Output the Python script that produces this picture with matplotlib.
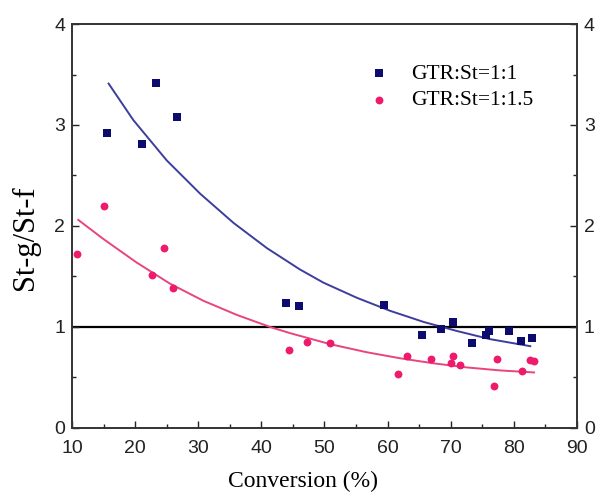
# St-g/St-f ratio against conversion for two GTR:St feed ratios

import numpy as np
import matplotlib.pyplot as plt
from matplotlib.ticker import MultipleLocator

# GTR:St = 1:1
conv_11 = [15.6, 21.1, 23.3, 26.6, 43.9, 45.9, 59.5, 65.5, 68.5, 70.3,
           73.4, 75.6, 76.1, 79.3, 81.2, 82.9]
ratio_11 = [2.92, 2.81, 3.42, 3.08, 1.24, 1.21, 1.22, 0.92, 0.98, 1.05,
            0.84, 0.92, 0.96, 0.96, 0.86, 0.89]

# GTR:St = 1:1.5
conv_115 = [10.8, 15.1, 22.7, 24.5, 26.0, 44.4, 47.2, 50.8, 61.6, 63.1,
            66.9, 70.3, 70.1, 71.4, 76.8, 77.4, 81.3, 82.5, 83.2]
ratio_115 = [1.72, 2.20, 1.51, 1.78, 1.39, 0.77, 0.85, 0.84, 0.53, 0.71,
             0.68, 0.71, 0.64, 0.62, 0.42, 0.68, 0.56, 0.67, 0.66]

# exponential decay trend lines
fit_x_11 = [15.8, 19.7, 25.0, 30.3, 35.6, 40.9, 46.1, 49.8, 55.1, 60.4,
            65.7, 71.0, 76.2, 82.6]
fit_y_11 = [3.41, 3.05, 2.65, 2.32, 2.03, 1.78, 1.57, 1.44, 1.29, 1.16,
            1.05, 0.96, 0.88, 0.81]
fit_x_115 = [11.0, 15.0, 20.2, 25.5, 30.8, 36.1, 41.4, 44.5, 50.9, 56.7,
             62.0, 67.3, 72.5, 77.8, 83.2]
fit_y_115 = [2.06, 1.87, 1.64, 1.43, 1.26, 1.12, 1.00, 0.94, 0.83, 0.75,
             0.69, 0.64, 0.60, 0.57, 0.55]

serif = ['Liberation Serif', 'DejaVu Serif']
sans = ['Liberation Sans', 'DejaVu Sans']
plt.rcParams['font.family'] = sans

fig = plt.figure(figsize=(5.97, 4.99), dpi=100)
ax = fig.add_axes([0.1206, 0.1423, 0.8459, 0.8096])

blue_pt = '#0c0c6e'
blue_ln = '#3d3d9e'
pink_pt = '#ee1a6c'
pink_ln = '#e8447e'

ax.axhline(1, color='black', lw=1.6, zorder=1)

ax.plot(fit_x_11, fit_y_11, color=blue_ln, lw=1.4, zorder=2)
ax.plot(fit_x_115, fit_y_115, color=pink_ln, lw=1.4, zorder=2)

ax.scatter(conv_11, ratio_11, marker='s', s=26, color=blue_pt, lw=0,
           label='GTR:St=1:1', zorder=3)
ax.scatter(conv_115, ratio_115, marker='o', s=32, color=pink_pt, lw=0,
           label='GTR:St=1:1.5', zorder=3)

ax.set_xlim(10, 90)
ax.set_ylim(0, 4)
ax.xaxis.set_major_locator(MultipleLocator(10))
ax.xaxis.set_minor_locator(MultipleLocator(5))
ax.yaxis.set_major_locator(MultipleLocator(1))
ax.yaxis.set_minor_locator(MultipleLocator(0.5))
ax.tick_params(which='both', direction='in', top=False, right=True,
               labelright=True, labelsize=14, colors='#222222')
ax.tick_params(which='major', length=5, width=1)
ax.tick_params(which='minor', length=3, width=1)
ax.tick_params(axis='x', pad=9)
ax.tick_params(axis='y', pad=5)
for side in ax.spines.values():
    side.set_linewidth(1.4)
    side.set_color('#333333')

ax.set_xlabel('Conversion (%)', fontsize=17, family=serif, va='center')
ax.xaxis.set_label_coords(0.457, -0.133)
ax.set_ylabel('St-g/St-f', fontsize=22, family=serif, va='center')
ax.yaxis.set_label_coords(-0.093, 0.470)

leg = ax.legend(loc='upper left', bbox_to_anchor=(0.527, 0.95), frameon=False,
                prop={'family': serif, 'size': 15.5}, handletextpad=0.5,
                labelspacing=0.3, scatterpoints=1)

fig.savefig('out.png', dpi=100)
